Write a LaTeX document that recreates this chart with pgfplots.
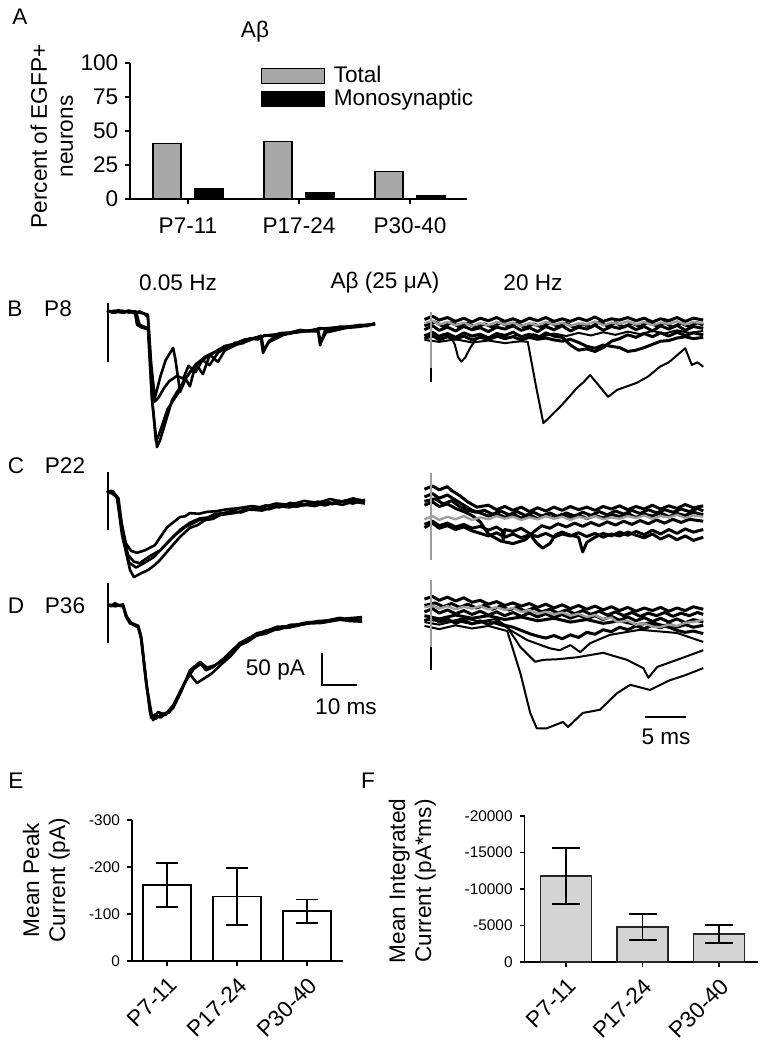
\documentclass[border=0pt]{standalone}
\usepackage{pgfplots}
\pgfplotsset{compat=1.18}
\usepackage{fontspec}
\setmainfont{Liberation Sans}
\newcommand\fs{\fontsize{11.3}{13}\selectfont}
\newcommand\fsm{\fontsize{7.7}{9}\selectfont}
\definecolor{tgray}{gray}{0.62}
\definecolor{bgray}{gray}{0.66}
\definecolor{lgray}{gray}{0.83}
\begin{document}
\begin{tikzpicture}[x=0.5pt,y=-0.5pt]
\useasboundingbox (0,0) rectangle (768,1050);
\pgfplotsset{
  every axis/.append style={/pgf/number format/assume math mode=true},
  trl/.style={hide axis, clip=false, anchor=origin, x=1.75pt, y=0.32pt, xmin=-1, xmax=78, ymin=-250, ymax=80},
  trr/.style={hide axis, clip=false, anchor=origin, x=4.1pt, y=0.32pt, xmin=-1.2, xmax=33.5, ymin=-250, ymax=80},
  tk/.style={black, line width=1.3pt, line join=round, mark=none},
  tkr/.style={black, line width=1.5pt, line join=round, mark=none},
  tks/.style={black, line width=1pt, line join=round, mark=none},
  tg/.style={tgray, line width=1.2pt, line join=round, mark=none},
}
% ---------------- Panel A ----------------
\node[font=\fs] at (20,17) {A};
\node[font=\fs] at (255,32) {Aβ};
\begin{axis}[
  at={(94pt,-99.5pt)}, anchor=origin,
  x=55.5pt, y=0.68pt,
  xmin=-0.52, xmax=2.51, ymin=0, ymax=100,
  axis lines*=left, axis line style={line width=0.8pt, black},
  ybar, bar width=14pt,
  xtick={0,1,2}, xticklabels={P7-11,P17-24,P30-40},
  ytick={0,25,50,75,100},
  tick align=outside, major tick length=2.5pt, tick style={line width=0.8pt, black},
  ticklabel style={font=\fs},
  xticklabel style={yshift=-3.5pt},
  ylabel={Percent of EGFP+\\neurons},
  ylabel style={at={(axis description cs:-0.149,0.46)}, anchor=south, align=center, font=\fs},
  legend style={at={(axis cs:0.65,100)}, anchor=north west, draw=none, fill=none, font=\fs, row sep=-1.3pt, inner sep=0pt, nodes={inner sep=1.5pt},
    /tikz/every odd column/.append style={column sep=3pt}},
  legend cell align=left,
  legend image code/.code={\draw[#1,/tikz/.cd] (0pt,-3.75pt) rectangle (31.5pt,3.75pt);},
]
\addplot[fill=bgray, draw=black, line width=0.6pt, bar shift=-10.5pt] coordinates {(0,41) (1,42) (2,20)};
\addplot[fill=black, draw=black, line width=0.6pt, bar shift=10.5pt] coordinates {(0,7.4) (1,5) (2,2.5)};
\legend{Total, Monosynaptic}
\end{axis}
% ---------------- Trace labels ----------------
\node[font=\fs] at (178,283) {0.05 Hz};
\node[font=\fs] at (385,283) {Aβ (25 μA)};
\node[font=\fs] at (533,283) {20 Hz};
\node[font=\fs] at (15,309) {B};
\node[font=\fs] at (58,309) {P8};
\node[font=\fs] at (16,466) {C};
\node[font=\fs] at (65,466) {P22};
\node[font=\fs] at (16,606) {D};
\node[font=\fs] at (65,606) {P36};
% ---------------- B left ----------------
\begin{axis}[trl, at={(54pt,-156pt)}]
\addplot[black, line width=0.6pt] coordinates {(0,14) (0,-78)};
\addplot[tk] coordinates {(-0.3,2)(1.5,-1)(3,3)(4.5,-1)(6,2)(7.5,-2)(9,1)(10.5,-3)(11.4,-8)(12.6,-138)(14,-211)(14.9,-200)(16.6,-169)(18.3,-138)(19.7,-125)(21.4,-111)(23.4,-94)(26.3,-78)(29.1,-67)(32,-59)(34,-57)(36.3,-48)(38.5,-49)(40.6,-41)(42.8,-43)(44.9,-36)(47,-38)(49.1,-33)(52,-32)(54.9,-28)(57.5,-30)(60.6,-25)(63,-27)(66.3,-23)(69,-24)(72,-20)(74,-22)(76.3,-17)};
\addplot[tk] coordinates {(-0.3,0)(2,2)(4,-1)(6,1)(7.7,-1)(8.3,-20)(9.5,-24)(10.8,-26)(11.6,-27)(12.3,-86)(13.4,-134)(15,-100)(16.5,-75)(18.6,-56)(19.2,-72)(20.6,-125)(22.3,-103)(24.9,-83)(27.7,-70)(30.6,-62)(33.4,-53)(36,-50)(39,-43)(42,-41)(43.6,-38)(44.3,-64)(46,-45)(49,-36)(53,-32)(57,-30)(60,-30)(60.6,-52)(62,-29)(66,-25)(70,-22)(76.3,-19)};
\addplot[tk] coordinates {(-0.3,1)(2,-1)(4,2)(6,-1)(8,1)(9,-20)(10.8,-24)(11.4,-25)(12.5,-130)(13.7,-202)(14.6,-191)(17,-152)(20,-127)(22,-103)(23.4,-116)(25.1,-81)(27.1,-97)(29.1,-67)(31.4,-78)(33.4,-60)(36.3,-52)(40.6,-44)(43.8,-37)(44.5,-59)(46,-47)(50,-36)(55,-30)(60,-28)(60.8,-47)(62.3,-32)(68,-25)(72,-23)(76.3,-19)};
\addplot[tk] coordinates {(-0.3,2)(3,0)(6,2)(9,-1)(11.4,-4)(12.3,-79)(13.4,-140)(14.5,-133)(16,-119)(17.5,-108)(19.7,-100)(21.5,-104)(23,-84)(25,-94)(27,-75)(29,-83)(31.5,-63)(34,-56)(38,-47)(42,-40)(46,-36)(50,-34)(55,-31)(60,-27)(65,-24)(70,-22)(76.3,-19)};
\end{axis}
% ---------------- B right ----------------
\begin{axis}[trr, at={(215.5pt,-161pt)}]
\addplot[tkr] coordinates {(-0.8,4)(0.2,9)(1,3)(2,7)(3,1)(4,6)(5,0)(6,6)(7,2)(8,7)(9,1)(10,5)(11,0)(12,6)(13,2)(14,7)(15,1)(16,5)(17,1)(18,6)(19,2)(20,8)(21,1)(22,5)(23,3)(24,7)(25,2)(26,6)(27,0)(28,5)(29,2)(30,7)(31,1)(32,6)(33.2,3)};
\addplot[tkr] coordinates {(-0.8,-12)(0.2,-6)(1,-13)(2,-8)(3,-14)(4,-7)(5,-12)(6,-9)(7,-15)(8,-8)(9,-11)(10,-6)(11,-13)(12,-9)(13,-15)(14,-7)(15,-12)(16,-6)(17,-14)(18,-8)(19,-11)(20,-5)(21,-13)(22,-7)(23,-10)(24,-5)(25,-12)(26,-7)(27,-14)(28,-6)(29,-11)(30,-5)(31,-13)(32,-7)(33.2,-10)};
\addplot[tkr] coordinates {(-0.8,-6)(0.5,0)(1.5,-7)(2.5,-1)(3.5,-8)(4.5,-2)(5.5,-9)(6.5,-3)(7.5,-8)(8.5,-1)(9.5,-7)(10.5,-2)(11.5,-9)(12.5,-3)(13.5,-8)(14.5,-1)(15.5,-7)(16.5,-2)(17.5,-9)(18.5,-3)(19.5,-8)(20.5,0)(21.5,-6)(22.5,-1)(23.5,-8)(24.5,-2)(25.5,-7)(26.5,0)(27.5,-6)(28.5,-1)(29.5,-8)(30.5,-2)(31.5,-7)(32.5,-1)(33.2,-5)};
\addplot[tkr] coordinates {(-0.8,-22)(0.2,-16)(1,-23)(2,-18)(3,-24)(4,-17)(5,-22)(6,-19)(7,-25)(8,-18)(9,-21)(10,-16)(11,-23)(12,-19)(13,-25)(14,-17)(15,-22)(16,-24)(17,-36)(18,-44)(19,-42)(20,-46)(21,-40)(22,-30)(23,-26)(24,-20)(25,-24)(26,-18)(27,-23)(28,-17)(29,-22)(30,-16)(31,-21)(32,-17)(33.2,-20)};
\addplot[tkr] coordinates {(-0.8,-26)(0.2,-21)(1,-28)(2,-23)(3,-27)(4,-22)(5,-28)(6,-24)(7,-27)(8,-22)(9,-26)(10,-23)(11,-28)(12,-24)(13,-27)(14,-25)(15,-28)(16,-30)(17,-27)(18,-32)(19,-38)(20,-41)(21,-36)(22,-38)(23,-40)(24,-46)(25,-44)(26,-40)(27,-35)(28,-30)(29,-29)(30,-25)(31,-23)(32,-26)(33.2,-24)};
\addplot[tks] coordinates {(-0.8,-20)(0.5,-24)(1.5,-19)(2.4,-23)(2.9,-35)(3.3,-55)(3.7,-62)(4.2,-55)(4.8,-40)(5.6,-25)(6.5,-22)(7.5,-26)(8.5,-21)(9.5,-25)(10.5,-20)(11.5,-24)(12.5,-19)(13.5,-23)(15,-18)(16.5,-22)(18,-17)(19.5,-21)(21,-16)(22.5,-20)(24,-15)(25.5,-19)(27,-14)(28.5,-18)(30,-13)(31.5,-17)(33.2,-14)};
\addplot[tks] coordinates {(-0.8,-28)(1,-31)(3,-27)(5,-32)(7,-29)(9,-33)(11,-30)(11.8,-31)(12.8,-100)(13.7,-158)(14.2,-152)(15.7,-133)(16.5,-122)(17.8,-103)(18.6,-94)(19.4,-83)(20.2,-95)(21.6,-117)(22.7,-106)(23.8,-101)(25.1,-95)(26.5,-85)(27.9,-70)(29,-63)(30,-52)(31,-41)(31.8,-67)(32.5,-63)(33.2,-70)};
\addplot[tg] coordinates {(-0.8,-2)(0.2,2)(1,-4)(2,0)(3,-5)(4,-1)(5,-6)(6,-2)(7,-5)(8,0)(9,-4)(10,-1)(11,-6)(12,-2)(13,-5)(14,0)(15,-4)(16,-1)(17,-6)(18,-2)(19,-4)(20,1)(21,-5)(22,-1)(23,-3)(24,1)(25,-4)(26,0)(27,-5)(28,-1)(29,-3)(30,1)(31,-4)(32,0)(33.2,-2)};
\addplot[tgray, line width=1.2pt] coordinates {(0,16) (0,-72)};
\addplot[black, line width=1.2pt] coordinates {(0,-72) (0,-94)};
\end{axis}
% ---------------- C left ----------------
\begin{axis}[trl, at={(54pt,-246pt)}]
\addplot[black, line width=0.6pt] coordinates {(0,31) (0,-59)};
\addplot[tk] coordinates {(-0.3,2)(0.7,-2)(1.4,1)(2.6,-8)(3.7,-44)(5.1,-80)(6.6,-92)(8.3,-95)(10.6,-91)(13.4,-83)(15,-70)(16.9,-55)(18.5,-48)(20.6,-39)(22,-38)(23.4,-33)(26,-34)(28.3,-31)(31,-30)(34,-27)(37.7,-25)(41,-22)(44,-24)(48,-18)(52,-20)(56,-14)(60,-17)(63.4,-11)(67,-15)(70,-10)(73.4,-14)};
\addplot[tk] coordinates {(-0.3,-1)(1,2)(2.6,-8)(4,-59)(5.7,-98)(7.4,-109)(9.1,-111)(12,-100)(14.9,-91)(17.7,-75)(20.6,-59)(23.4,-48)(26.3,-41)(28.5,-40)(30.6,-34)(34,-33)(37.7,-25)(41,-28)(45,-21)(49,-24)(52,-17)(56,-21)(60,-15)(64,-19)(68,-13)(73.4,-16)};
\addplot[tk] coordinates {(-0.3,1)(1,-1)(2.6,-9)(4,-67)(6.3,-122)(7.4,-133)(9.1,-128)(11.4,-122)(13.4,-114)(14.9,-106)(17.7,-88)(20.6,-70)(23.4,-56)(25.5,-52)(27.7,-44)(30,-42)(32,-36)(36,-33)(40,-27)(44,-29)(48,-22)(52,-24)(55,-19)(59,-22)(63,-16)(67,-20)(70,-15)(73.4,-18)};
\addplot[tk] coordinates {(0,1)(1.5,-2)(3,-10)(4.5,-75)(6,-110)(8,-118)(10,-112)(13,-102)(16,-85)(19,-68)(22,-55)(26,-44)(30,-38)(35,-30)(38,-32)(42,-24)(46,-27)(50,-20)(54,-23)(58,-17)(62,-21)(66,-14)(70,-18)(73.4,-12)};
\end{axis}
% ---------------- C right ----------------
\begin{axis}[trr, at={(215.5pt,-259pt)}]
\addplot[tkr] coordinates {(-0.8,45)(0.2,50)(1,44)(2,49)(2.5,43)(3.5,35)(4.5,25)(5.6,17)(7,20)(8,13)(9,18)(10,12)(11,17)(12,10)(13,16)(14,11)(15,17)(16,12)(17,18)(18,13)(19,17)(20,12)(21,18)(22,14)(23,19)(24,13)(25,18)(26,14)(27,20)(28,14)(29,19)(30,15)(31,21)(32,16)(33.2,19)};
\addplot[tkr] coordinates {(-0.8,33)(0.2,38)(1,31)(2,36)(3,28)(4,20)(5,12)(6,8)(7,3)(8,7)(9,1)(10,6)(11,0)(12,5)(13,-1)(14,4)(15,0)(16,6)(17,1)(18,5)(19,-1)(20,4)(21,0)(22,6)(23,2)(24,7)(25,1)(26,6)(27,3)(28,8)(29,2)(30,7)(31,4)(32,9)(33.2,5)};
\addplot[tkr] coordinates {(-0.8,26)(0.5,30)(1.5,22)(2.5,27)(3.5,18)(4.5,12)(5.5,9)(6.5,12)(7.5,6)(8.5,11)(9.5,5)(10.5,10)(11.5,4)(12.5,9)(13.5,3)(14.5,8)(15.5,2)(16.5,8)(17.5,3)(18.5,9)(19.5,4)(20.5,10)(21.5,5)(22.5,11)(23.5,6)(24.5,12)(25.5,7)(26.5,13)(27.5,8)(28.5,13)(29.5,9)(30.5,14)(31.5,10)(32.5,15)(33.2,11)};
\addplot[tkr] coordinates {(-0.8,20)(0.2,25)(1,18)(2,22)(3,15)(4,10)(5,4)(6,-6)(7,-25)(8.5,-36)(10,-40)(11.5,-34)(12.5,-22)(13.5,-12)(14.5,-16)(15.5,-9)(16.5,-14)(17.5,-8)(18.5,-13)(19.5,-7)(20.5,-12)(21.5,-6)(22.5,-11)(23.5,-5)(24.5,-10)(25.5,-4)(26.5,-9)(27.5,-3)(28.5,-8)(29.5,-2)(30.5,-7)(31.5,-2)(33.2,-5)};
\addplot[tkr] coordinates {(-0.8,-10)(0.2,-5)(1,-12)(2,-8)(3,-14)(4,-10)(5,-16)(6,-13)(7,-19)(8,-14)(8.7,-20)(8.8,-34)(9,-18)(10,-21)(11,-16)(12,-24)(12.8,-38)(13.6,-47)(14.5,-40)(15.2,-26)(16,-22)(17,-27)(18,-30)(18.5,-53)(19,-38)(20,-30)(21,-24)(22,-28)(23,-22)(24,-27)(25,-21)(26,-26)(27,-19)(28,-25)(29,-18)(30,-24)(31,-17)(32,-22)(33.2,-18)};
\addplot[tkr] coordinates {(-0.8,-15)(0.2,-8)(1,-16)(2,-12)(3,-18)(4,-14)(5,-20)(6,-24)(7,-28)(8,-23)(9,-30)(10,-25)(11,-31)(12,-26)(13,-29)(14,-24)(15,-30)(16,-25)(17,-28)(18,-23)(19,-29)(20,-24)(21,-30)(22,-25)(23,-28)(24,-22)(25,-27)(26,-31)(27,-25)(28,-33)(29,-27)(30,-34)(31,-28)(32,-35)(33.2,-30)};
\addplot[tg] coordinates {(-0.8,-2)(0.2,3)(1,-3)(2,2)(3,-2)(4,3)(5,-3)(6,1)(7,-2)(8,3)(9,-1)(10,2)(11,-3)(12,1)(13,-2)(14,3)(15,-1)(16,2)(17,-3)(18,2)(19,-1)(20,3)(21,-2)(22,1)(23,-1)(24,3)(25,0)(26,4)(27,-1)(28,3)(29,1)(30,5)(31,0)(32,4)(33.2,2)};
\addplot[tgray, line width=1.2pt] coordinates {(0,70) (0,-66)};
\end{axis}
% ---------------- D left ----------------
\begin{axis}[trl, at={(54pt,-302.5pt)}]
\addplot[black, line width=0.6pt] coordinates {(0,34) (0,-59)};
\addplot[tk] coordinates {(0,0)(1,-2)(2,3)(3,-1)(4.3,-2)(5.1,-16)(6.3,-27)(7.5,-30)(8.6,-33)(9.4,-47)(10.9,-117)(12,-167)(12.9,-180)(14.3,-167)(16.3,-172)(18.6,-161)(21.1,-133)(23.4,-102)(26.3,-89)(28.3,-98)(30.6,-94)(32.9,-86)(35,-75)(37.7,-59)(40,-53)(42.6,-44)(45,-41)(48.3,-34)(52,-33)(56.9,-27)(61,-26)(66.3,-20)(69,-23)(72.6,-23)};
\addplot[tk] coordinates {(0,1)(2,-2)(4.3,1)(5.1,-18)(6.3,-29)(8.6,-32)(9.4,-50)(10.9,-122)(12.3,-176)(13.5,-171)(15,-176)(17,-167)(18.6,-157)(21.1,-130)(23.4,-108)(25.4,-122)(27.4,-115)(29.4,-108)(32.9,-90)(35,-80)(37.7,-63)(40,-57)(42.6,-47)(45,-45)(48.3,-37)(52,-35)(56.9,-29)(61,-28)(66.3,-23)(69,-25)(72.6,-26)};
\addplot[tk] coordinates {(0,-1)(2,1)(4.3,-1)(5.5,-20)(7,-30)(8.6,-35)(9.6,-55)(11,-125)(12.5,-172)(13.5,-178)(15.5,-170)(17.5,-168)(19.5,-150)(22,-120)(24.5,-100)(26.5,-92)(28,-102)(30,-97)(33,-84)(36,-68)(40,-52)(43,-47)(45,-40)(49,-38)(52,-31)(56,-30)(60,-25)(64,-24)(68,-21)(72.6,-19)};
% scale bar 50 pA / 10 ms
\addplot[black, line width=1.3pt] coordinates {(61.1,-75) (61.1,-125) (71.1,-125)};
\end{axis}
\node[font=\fs, anchor=east] at (312,670) {50 pA};
\node[font=\fs] at (346,707) {10 ms};
% ---------------- D right ----------------
\begin{axis}[trr, at={(215.5pt,-304pt)}]
\addplot[tkr] coordinates {(-0.8,14)(0.2,18)(1,12)(2,17)(3,11)(4,16)(5,9)(6,12)(7,6)(8,10)(9,4)(10,8)(11,3)(12,7)(13,1)(14,6)(15,0)(16,5)(17,-1)(18,4)(19,-2)(20,3)(21,-3)(22,2)(23,-4)(24,1)(25,-5)(26,0)(27,-4)(28,1)(29,-5)(30,0)(31,-4)(32,2)(33.2,-2)};
\addplot[tkr] coordinates {(-0.8,-6)(0.2,-1)(1,-8)(2,-3)(3,-9)(4,-4)(5,-10)(6,-5)(7,-11)(8,-6)(9,-12)(10,-7)(11,-13)(12,-8)(13,-14)(14,-9)(15,-15)(16,-10)(17,-16)(18,-11)(19,-17)(20,-12)(21,-18)(22,-13)(23,-19)(24,-14)(25,-20)(26,-15)(27,-21)(28,-16)(29,-22)(30,-17)(31,-23)(32,-18)(33.2,-22)};
\addplot[tkr] coordinates {(-0.8,4)(0.5,8)(1.5,2)(2.5,7)(3.5,1)(4.5,6)(5.5,0)(6.5,4)(7.5,-2)(8.5,3)(9.5,-3)(10.5,1)(11.5,-5)(12.5,0)(13.5,-6)(14.5,-2)(15.5,-8)(16.5,-3)(17.5,-9)(18.5,-4)(19.5,-10)(20.5,-5)(21.5,-11)(22.5,-6)(23.5,-12)(24.5,-7)(25.5,-13)(26.5,-8)(27.5,-12)(28.5,-7)(29.5,-13)(30.5,-8)(31.5,-12)(32.5,-7)(33.2,-10)};
\addplot[tkr] coordinates {(-0.8,-20)(0.2,-15)(1,-22)(2,-17)(3,-24)(4,-19)(5,-25)(6,-20)(7,-26)(8,-21)(9,-27)(10,-30)(11,-35)(12,-40)(13,-44)(14,-47)(15,-43)(16,-48)(17,-42)(18,-46)(19,-38)(20,-41)(21,-34)(22,-37)(23,-30)(24,-34)(25,-28)(26,-32)(27,-27)(28,-31)(29,-25)(30,-30)(31,-26)(32,-30)(33.2,-27)};
\addplot[tkr] coordinates {(-0.8,-12)(1,-17)(3,-11)(5,-16)(7,-12)(9,-18)(11,-14)(13,-20)(15,-16)(17,-22)(19,-18)(21,-24)(23,-20)(25,-26)(27,-23)(29,-30)(30,-35)(31,-38)(32,-36)(33.2,-40)};
\addplot[tks] coordinates {(-0.8,-18)(2,-22)(4,-16)(6,-21)(8,-17)(9.6,-34)(11.7,-50)(14.5,-63)(15.7,-66)(17,-58)(18.2,-69)(19.4,-55)(21.8,-42)(25.5,-34)(30,-39)(33.2,-53)};
\addplot[tks] coordinates {(-0.8,-22)(1,-26)(3,-20)(5,-25)(7,-21)(9.3,-30)(10.9,-61)(12.7,-84)(13.7,-81)(15.5,-80)(17.8,-77)(21,-70)(23.9,-81)(25.9,-94)(26.5,-109)(27.6,-92)(30,-81)(33.2,-66)};
\addplot[tks] coordinates {(-0.8,-28)(1,-33)(3,-27)(5,-32)(7,-28)(9.3,-36)(10.9,-102)(12.1,-164)(12.9,-188)(14.1,-188)(16.1,-178)(16.7,-186)(18.5,-164)(20.6,-159)(22.7,-133)(24.3,-120)(26.7,-128)(29.1,-113)(31,-105)(33.2,-94)};
\addplot[tg] coordinates {(-0.8,1)(0.2,4)(1,-1)(2,3)(3,-2)(4,2)(5,-1)(6,3)(7,-2)(8,1)(9,-3)(10,0)(11,-6)(12,-3)(13,-9)(14,-6)(15,-10)(16,-7)(17,-12)(18,-9)(19,-14)(20,-11)(21,-17)(22,-15)(22.7,-22)(24,-20)(25,-26)(26,-24)(27,-29)(27.9,-30)(29,-26)(30,-28)(31,-23)(32,-22)(33.2,-18)};
\addplot[tgray, line width=1.2pt] coordinates {(0,44) (0,-61)};
\addplot[black, line width=1.2pt] coordinates {(0,-61) (0,-97)};
% scale bar 5 ms
\addplot[black, line width=1.3pt] coordinates {(26.1,-170) (31.1,-170)};
\end{axis}
\node[font=\fs] at (666,737) {5 ms};
% ---------------- Panel E ----------------
\node[font=\fs] at (16,781) {E};
\begin{axis}[
  at={(83.5pt,-480.5pt)}, anchor=origin,
  x=35pt, y=0.235pt, y dir=reverse,
  xmin=-0.5, xmax=2.51, ymin=-300, ymax=0,
  axis lines*=left, axis line style={line width=0.8pt, black},
  ybar, bar width=24pt,
  xtick={0,1,2}, xticklabels={P7-11,P17-24,P30-40},
  xticklabel style={rotate=45, anchor=north east, font=\fs},
  ytick={-300,-200,-100,0}, yticklabels={-300,-200,-100,0},
  yticklabel style={font=\fsm},
  tick align=outside, major tick length=2.5pt, tick style={line width=0.8pt, black},
  ylabel={Mean Peak\\Current (pA)},
  ylabel style={at={(axis cs:-1.286,-172)}, anchor=south, align=center, font=\fs},
]
\addplot[fill=white, draw=black, line width=0.7pt, bar shift=0pt,
  error bars/.cd, y dir=both, y explicit,
  error bar style={line width=0.8pt, black},
  error mark options={rotate=90, mark size=5.5pt, line width=0.8pt, black}]
  coordinates {(0,-162) +- (0,47) (1,-137) +- (0,61) (2,-106) +- (0,25)};
\end{axis}
% ---------------- Panel F ----------------
\node[font=\fs] at (368,781) {F};
\begin{axis}[
  at={(283pt,-481pt)}, anchor=origin,
  x=38.25pt, y=0.00365pt, y dir=reverse,
  xmin=-0.54, xmax=2.51, ymin=-20000, ymax=0,
  scaled y ticks=false,
  axis lines*=left, axis line style={line width=0.8pt, black},
  ybar, bar width=25.5pt,
  xtick={0,1,2}, xticklabels={P7-11,P17-24,P30-40},
  xticklabel style={rotate=45, anchor=north east, font=\fs},
  ytick={-20000,-15000,-10000,-5000,0}, yticklabels={-20000,-15000,-10000,-5000,0},
  yticklabel style={font=\fsm},
  tick align=outside, major tick length=2.5pt, tick style={line width=0.8pt, black},
  ylabel={Mean Integrated\\Current (pA*ms)},
  ylabel style={at={(axis cs:-1.608,-11096)}, anchor=south, align=center, font=\fs},
]
\addplot[fill=lgray, draw=black!85, line width=0.7pt, bar shift=0pt,
  error bars/.cd, y dir=both, y explicit,
  error bar style={line width=0.8pt, black},
  error mark options={rotate=90, mark size=7pt, line width=0.8pt, black}]
  coordinates {(0,-11780) +- (0,3830) (1,-4800) +- (0,1790) (2,-3840) +- (0,1235)};
\end{axis}
\end{tikzpicture}
\end{document}
